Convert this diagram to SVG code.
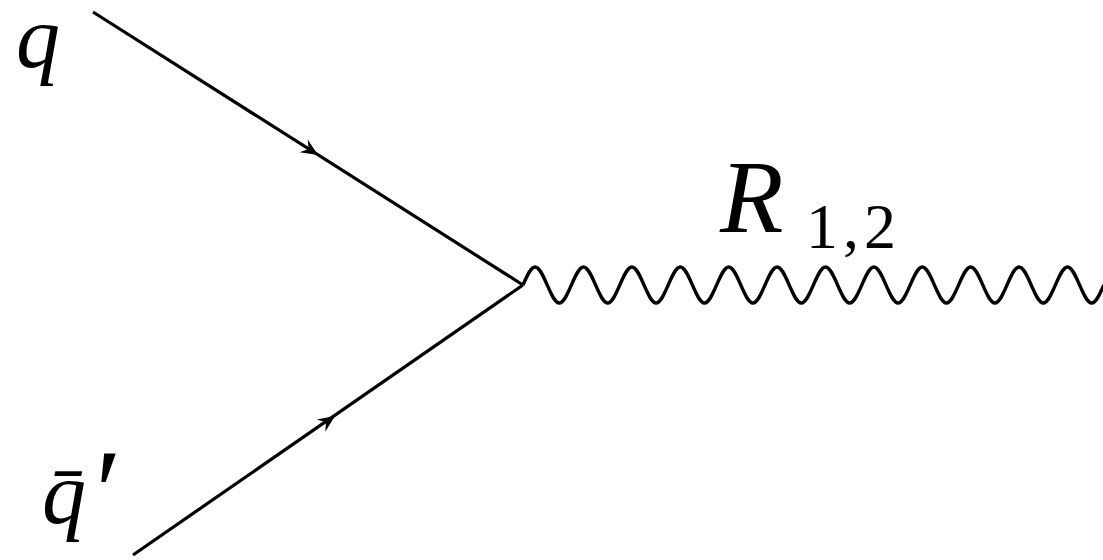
<svg xmlns="http://www.w3.org/2000/svg" width="1103" height="560" viewBox="0 0 1103 560">
<defs>
<path id="arr" d="M0,0 L-17,-7.5 L-11,0 L-17,7.5 Z" fill="#000"/>
</defs>
<g id="connectors" stroke="#000" fill="none">
<line stroke-width="3.2" x1="93" y1="12" x2="523" y2="285"/>
<line stroke-width="3.2" x1="133" y1="555" x2="523" y2="285"/>
<use href="#arr" stroke="none" transform="translate(318,155) rotate(32.4)"/>
<use href="#arr" stroke="none" transform="translate(335,416) rotate(-34.7)"/>
<path stroke-width="3.4" stroke-linejoin="round" d="M523,285 c3.946,-8.965 7.721,-18 12.1,-18 c4.379,0 8.154,9.035 12.1,18 c3.946,8.965 7.721,18 12.1,18 c4.379,0 8.154,-9.035 12.1,-18
c3.946,-8.965 7.721,-18 12.1,-18 c4.379,0 8.154,9.035 12.1,18 c3.946,8.965 7.721,18 12.1,18 c4.379,0 8.154,-9.035 12.1,-18
c3.946,-8.965 7.721,-18 12.1,-18 c4.379,0 8.154,9.035 12.1,18 c3.946,8.965 7.721,18 12.1,18 c4.379,0 8.154,-9.035 12.1,-18
c3.946,-8.965 7.721,-18 12.1,-18 c4.379,0 8.154,9.035 12.1,18 c3.946,8.965 7.721,18 12.1,18 c4.379,0 8.154,-9.035 12.1,-18
c3.946,-8.965 7.721,-18 12.1,-18 c4.379,0 8.154,9.035 12.1,18 c3.946,8.965 7.721,18 12.1,18 c4.379,0 8.154,-9.035 12.1,-18
c3.946,-8.965 7.721,-18 12.1,-18 c4.379,0 8.154,9.035 12.1,18 c3.946,8.965 7.721,18 12.1,18 c4.379,0 8.154,-9.035 12.1,-18
c3.946,-8.965 7.721,-18 12.1,-18 c4.379,0 8.154,9.035 12.1,18 c3.946,8.965 7.721,18 12.1,18 c4.379,0 8.154,-9.035 12.1,-18
c3.946,-8.965 7.721,-18 12.1,-18 c4.379,0 8.154,9.035 12.1,18 c3.946,8.965 7.721,18 12.1,18 c4.379,0 8.154,-9.035 12.1,-18
c3.946,-8.965 7.721,-18 12.1,-18 c4.379,0 8.154,9.035 12.1,18 c3.946,8.965 7.721,18 12.1,18 c4.379,0 8.154,-9.035 12.1,-18
c3.946,-8.965 7.721,-18 12.1,-18 c4.379,0 8.154,9.035 12.1,18 c3.946,8.965 7.721,18 12.1,18 c4.379,0 8.154,-9.035 12.1,-18
c3.946,-8.965 7.721,-18 12.1,-18 c4.379,0 8.154,9.035 12.1,18 c3.946,8.965 7.721,18 12.1,18 c4.379,0 8.154,-9.035 12.1,-18
c3.946,-8.965 7.721,-18 12.1,-18 c4.379,0 8.154,9.035 12.1,18 c3.946,8.965 7.721,18 12.1,18 c4.379,0 8.154,-9.035 12.1,-18"/>
</g>
<g id="q" font-family="Liberation Serif" font-style="italic" font-size="88">
<text x="16" y="67">q</text>
</g>
<g id="qbar" font-family="Liberation Serif" font-style="italic">
<text x="42" y="523" font-size="88">q̄<tspan font-size="120" dx="2" dy="10">′</tspan></text>
</g>
<g id="R" font-family="Liberation Serif">
<text x="720" y="232" font-style="italic" font-size="104">R</text>
<text x="806" y="248" font-size="64" letter-spacing="5">1,2</text>
</g>
</svg>
